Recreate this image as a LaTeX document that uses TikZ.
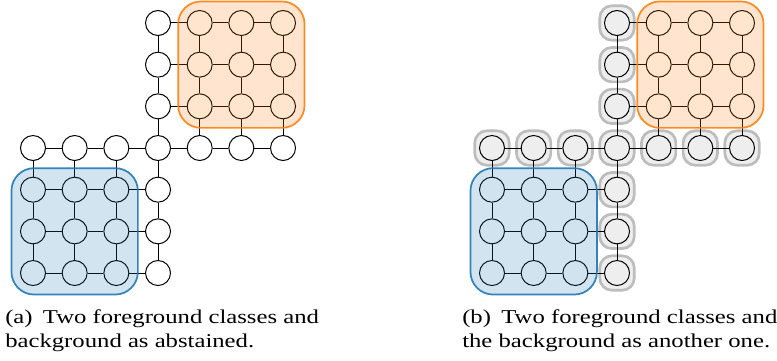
\documentclass[tikz,border=0pt]{standalone}
\usepackage{fontspec}
\setmainfont{Liberation Serif}
\usetikzlibrary{fit}
\definecolor{tOrange}{HTML}{FF7F0E}
\definecolor{tBlue}{HTML}{1F77B4}
\definecolor{haloFill}{HTML}{EEEEEE}
\definecolor{haloDraw}{HTML}{BDBDBD}
\pgfdeclarelayer{halolayer}
\pgfdeclarelayer{edgelayer}
\pgfdeclarelayer{boxlayer}
\pgfsetlayers{halolayer,edgelayer,main,boxlayer}
\newcommand{\mygridpanel}[3]{%
  % #1 x offset, #2 prefix, #3 style of background nodes
  \foreach \r in {0,...,6} {\node[vert,#3] (#2-3-\r) at (#1+33+41.67*3, 23+41.67*\r) {};}
  \foreach \c in {0,1,2,4,5,6} {\node[vert,#3] (#2-\c-3) at (#1+33+41.67*\c, 23+41.67*3) {};}
  \foreach \c in {4,5,6} {\foreach \r in {0,1,2} {\node[vert] (#2-\c-\r) at (#1+33+41.67*\c, 23+41.67*\r) {};}}
  \foreach \c in {0,1,2} {\foreach \r in {4,5,6} {\node[vert] (#2-\c-\r) at (#1+33+41.67*\c, 23+41.67*\r) {};}}
  \begin{pgfonlayer}{edgelayer}
    \foreach \r in {0,1,2} {\foreach \c [evaluate=\c as \n using int(\c+1)] in {3,4,5} {\draw[edge] (#2-\c-\r) -- (#2-\n-\r);}}
    \foreach \c [evaluate=\c as \n using int(\c+1)] in {0,...,5} {\draw[edge] (#2-\c-3) -- (#2-\n-3);}
    \foreach \r in {4,5,6} {\foreach \c [evaluate=\c as \n using int(\c+1)] in {0,1,2} {\draw[edge] (#2-\c-\r) -- (#2-\n-\r);}}
    \foreach \c in {0,1,2} {\foreach \r [evaluate=\r as \n using int(\r+1)] in {3,4,5} {\draw[edge] (#2-\c-\r) -- (#2-\c-\n);}}
    \foreach \r [evaluate=\r as \n using int(\r+1)] in {0,...,5} {\draw[edge] (#2-3-\r) -- (#2-3-\n);}
    \foreach \c in {4,5,6} {\foreach \r [evaluate=\r as \n using int(\r+1)] in {0,1,2} {\draw[edge] (#2-\c-\r) -- (#2-\c-\n);}}
  \end{pgfonlayer}
  \begin{pgfonlayer}{boxlayer}
    \node[classbox, draw=tOrange, fill=tOrange, fit=(#2-4-0)(#2-6-2)] (#2-orange) {};
    \node[classbox, draw=tBlue, fill=tBlue, fit=(#2-0-4)(#2-2-6)] (#2-blue) {};
  \end{pgfonlayer}
}
\begin{document}
\begin{tikzpicture}[x=0.75pt,y=-0.75pt,
  vert/.style={circle, draw=black, fill=white, line width=0.75pt, minimum size=18.75pt, inner sep=0pt},
  bgvert/.style={fill=haloFill},
  edge/.style={draw=black, line width=0.75pt},
  halo/.style={rectangle, rounded corners=9pt, draw=haloDraw, fill=haloFill, line width=2pt, minimum size=25.8pt, inner sep=0pt},
  classbox/.style={rectangle, rounded corners=17pt, line width=1.3pt, fill opacity=0.2, draw opacity=0.9, inner sep=6.4pt},
  caption/.style={anchor=base west, inner sep=0pt, font=\fontsize{14.7}{17}\selectfont}]
\useasboundingbox (0,0) rectangle (777,360);
\mygridpanel{0}{L}{}
\mygridpanel{459}{R}{bgvert}
\begin{pgfonlayer}{halolayer}
  \foreach \r in {0,...,6} {\node[halo] (H-3-\r) at (R-3-\r) {};}
  \foreach \c in {0,1,2,4,5,6} {\node[halo] (H-\c-3) at (R-\c-3) {};}
\end{pgfonlayer}
\node[caption] (capA1) at (5,323) {\scalebox{1.26}[1]{(a)\, Two foreground classes and}};
\node[caption] (capA2) at (5,347) {\scalebox{1.26}[1]{background as abstained.}};
\node[caption] (capB1) at (462,323) {\scalebox{1.26}[1]{(b)\, Two foreground classes and}};
\node[caption] (capB2) at (462,347) {\scalebox{1.26}[1]{the background as another one.}};
\end{tikzpicture}
\end{document}
